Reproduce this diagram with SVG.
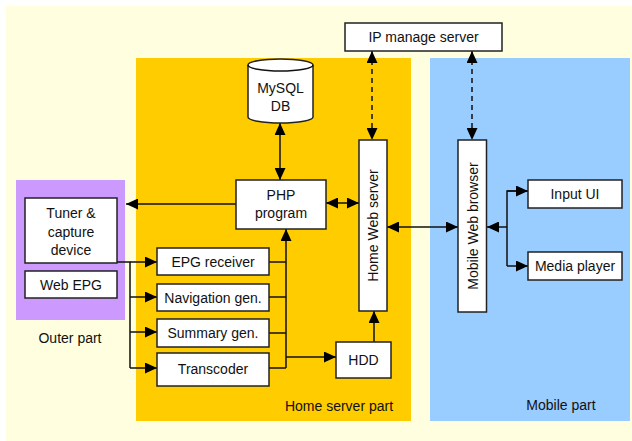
<svg xmlns="http://www.w3.org/2000/svg" width="632" height="441" viewBox="0 0 632 441">
  <style>
    .box { fill: #ffffff; stroke: #222222; stroke-width: 1.5; }
    .lbl { font-family: "Liberation Sans", Arial, sans-serif; font-size: 14px; fill: #111111; text-anchor: middle; }
    .ln { fill: none; stroke: #111111; stroke-width: 1.5; }
    .dash { stroke-dasharray: 5 4; }
  </style>
  <defs>
    <marker id="ah" markerUnits="userSpaceOnUse" markerWidth="12" markerHeight="11" refX="12" refY="5.5" orient="auto-start-reverse" viewBox="0 0 12 11">
      <path d="M0,0 L12,5.5 L0,11 Z" fill="#000000"/>
    </marker>
  </defs>

  <!-- regions -->
  <rect x="6" y="6" width="626" height="435" fill="#ffffe0"/>
  <rect x="136" y="58" width="275" height="363" fill="#ffcc00"/>
  <rect x="430" y="58" width="200" height="363" fill="#99ccff"/>
  <rect x="16" y="180" width="109" height="140" fill="#cc99ff"/>
  <text class="lbl" x="70" y="343">Outer part</text>
  <text class="lbl" x="339" y="411">Home server part</text>
  <text class="lbl" x="561" y="410">Mobile part</text>

  <!-- connectors -->
  <g id="connectors">
    <line class="ln dash" x1="372" y1="51" x2="372" y2="140" marker-start="url(#ah)" marker-end="url(#ah)"/>
    <line class="ln dash" x1="472" y1="51" x2="472" y2="140" marker-start="url(#ah)" marker-end="url(#ah)"/>
    <line class="ln" x1="280" y1="123" x2="280" y2="180" marker-start="url(#ah)" marker-end="url(#ah)"/>
    <line class="ln" x1="326" y1="203" x2="359" y2="203" marker-start="url(#ah)" marker-end="url(#ah)"/>
    <line class="ln" x1="387" y1="227" x2="458" y2="227" marker-start="url(#ah)" marker-end="url(#ah)"/>
    <line class="ln" x1="236" y1="204" x2="126" y2="204" marker-end="url(#ah)"/>
    <!-- tuner output fan-out -->
    <polyline class="ln" points="117,262 130,262 130,368"/>
    <line class="ln" x1="130" y1="262" x2="157" y2="262" marker-end="url(#ah)"/>
    <line class="ln" x1="130" y1="297" x2="157" y2="297" marker-end="url(#ah)"/>
    <line class="ln" x1="130" y1="332" x2="157" y2="332" marker-end="url(#ah)"/>
    <line class="ln" x1="130" y1="368" x2="157" y2="368" marker-end="url(#ah)"/>
    <!-- module outputs into PHP program -->
    <line class="ln" x1="269" y1="262" x2="286" y2="262"/>
    <line class="ln" x1="269" y1="297" x2="286" y2="297"/>
    <line class="ln" x1="269" y1="333" x2="286" y2="333"/>
    <line class="ln" x1="269" y1="368" x2="286" y2="368"/>
    <line class="ln" x1="286" y1="368" x2="286" y2="229" marker-end="url(#ah)"/>
    <line class="ln" x1="286" y1="357" x2="336" y2="357" marker-end="url(#ah)"/>
    <line class="ln" x1="374" y1="342" x2="374" y2="311" marker-end="url(#ah)"/>
    <!-- mobile peripherals -->
    <line class="ln" x1="507" y1="227" x2="487" y2="227" marker-end="url(#ah)"/>
    <polyline class="ln" points="528,191 507,191 507,266"/>
    <line class="ln" x1="507" y1="191" x2="528" y2="191" marker-end="url(#ah)"/>
    <line class="ln" x1="507" y1="266" x2="528" y2="266" marker-end="url(#ah)"/>
  </g>

  <!-- nodes -->
  <g id="ip-manage-server">
    <rect class="box" x="345" y="23" width="157" height="28"/>
    <text class="lbl" x="423.5" y="42">IP manage server</text>
  </g>
  <g id="mysql-db">
    <path class="box" d="M248,65 A32.5,6 0 0 1 313,65 V117 A32.5,6 0 0 1 248,117 Z"/>
    <path class="ln" d="M248,65 A32.5,6 0 0 0 313,65" stroke="#222222"/>
    <text class="lbl" x="280.5" y="93">MySQL</text>
    <text class="lbl" x="280.5" y="111">DB</text>
  </g>
  <g id="php-program">
    <rect class="box" x="236" y="180" width="90" height="49"/>
    <text class="lbl" x="281" y="200">PHP</text>
    <text class="lbl" x="281" y="218">program</text>
  </g>
  <g id="home-web-server">
    <rect class="box" x="359" y="140" width="28" height="171"/>
    <text class="lbl" transform="translate(378,225.5) rotate(-90)">Home Web server</text>
  </g>
  <g id="mobile-web-browser">
    <rect class="box" x="458" y="140" width="28.5" height="172"/>
    <text class="lbl" transform="translate(477.5,226) rotate(-90)">Mobile Web browser</text>
  </g>
  <g id="input-ui">
    <rect class="box" x="528" y="180" width="94" height="28"/>
    <text class="lbl" x="575" y="199">Input UI</text>
  </g>
  <g id="media-player">
    <rect class="box" x="528" y="252" width="94" height="28"/>
    <text class="lbl" x="575" y="271">Media player</text>
  </g>
  <g id="tuner">
    <rect class="box" x="25" y="198" width="92" height="65"/>
    <text class="lbl" x="71" y="218">Tuner &amp;</text>
    <text class="lbl" x="71" y="236.5">capture</text>
    <text class="lbl" x="71" y="255">device</text>
  </g>
  <g id="web-epg">
    <rect class="box" x="25" y="271" width="92" height="27"/>
    <text class="lbl" x="71" y="289.5">Web EPG</text>
  </g>
  <g id="epg-receiver">
    <rect class="box" x="157" y="248" width="112" height="27"/>
    <text class="lbl" x="213" y="266.5">EPG receiver</text>
  </g>
  <g id="navigation-gen">
    <rect class="box" x="157" y="284" width="112" height="27"/>
    <text class="lbl" x="213" y="302.5">Navigation gen.</text>
  </g>
  <g id="summary-gen">
    <rect class="box" x="157" y="319" width="112" height="28"/>
    <text class="lbl" x="213" y="337.5">Summary gen.</text>
  </g>
  <g id="transcoder">
    <rect class="box" x="157" y="353" width="112" height="33"/>
    <text class="lbl" x="213" y="374">Transcoder</text>
  </g>
  <g id="hdd">
    <rect class="box" x="336" y="342" width="55" height="36"/>
    <text class="lbl" x="363.5" y="365">HDD</text>
  </g>
</svg>
